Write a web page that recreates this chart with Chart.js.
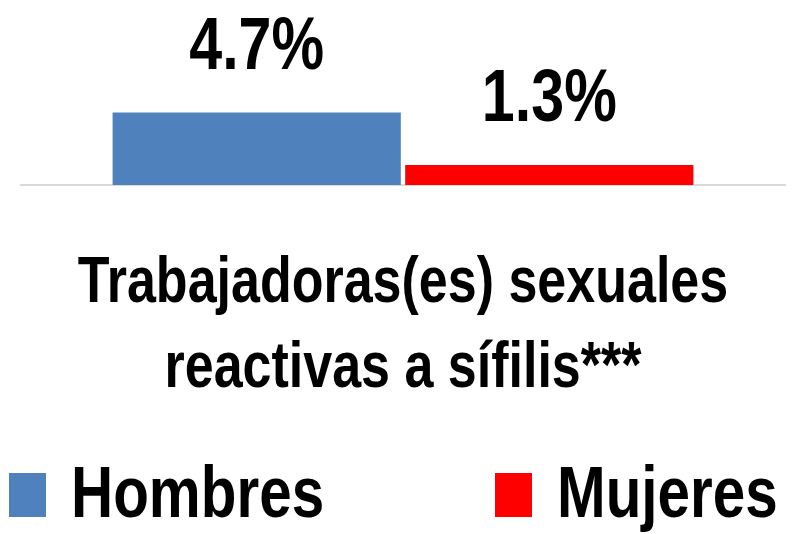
<!DOCTYPE html>
<html>
<head>
<meta charset="utf-8">
<script src="https://cdn.jsdelivr.net/npm/chart.js@4"></script>
<style>
  html, body { margin: 0; padding: 0; background: #fff; }
  #wrap { width: 798px; height: 534px; }
</style>
</head>
<body>
<div id="wrap"><canvas id="chart" width="798" height="534"></canvas></div>
<script>
// --- データ ---
const categories  = [['Trabajadoras(es) sexuales', 'reactivas a sífilis***']];
const seriesNames = ['Hombres', 'Mujeres'];
const hombres     = [4.7];
const mujeres     = [1.3];
const seriesColors = ['#4F81BD', '#FF0000'];

// 横方向に縮めた太字テキスト（Calibri Bold 風）
const FONT = '"Liberation Sans", Arial, sans-serif';
const SQUEEZE = 0.8;

function squeezedText(ctx, text, x, y, size, align) {
    ctx.save();
    ctx.translate(x, y);
    ctx.scale(SQUEEZE, 1);
    ctx.font = `bold ${size}px ${FONT}`;
    ctx.fillStyle = '#000';
    ctx.textAlign = align;
    ctx.textBaseline = 'alphabetic';
    ctx.fillText(text, 0, 0);
    ctx.restore();
}

// --- 値ラベル・カテゴリ名・凡例 ---
const textPlugin = {
    id: 'squeezedLabels',
    afterDraw(chart) {
        const ctx = chart.ctx;
        const area = chart.chartArea;

        // バー上の値
        chart.data.datasets.forEach((ds, i) => {
            chart.getDatasetMeta(i).data.forEach((bar, j) => {
                squeezedText(ctx, ds.data[j].toFixed(1) + '%', bar.x, bar.y - 44, 74, 'center');
            });
        });

        // カテゴリ名（2行）
        const xScale = chart.scales.x;
        chart.data.labels.forEach((lines, j) => {
            const cx = xScale.getPixelForTick(j);
            lines.forEach((line, k) => {
                squeezedText(ctx, line, cx, area.bottom + 117 + k * 85, 65, 'center');
            });
        });

        // 凡例
        const legendX = [9, 495];
        const baseline = 517;
        chart.data.datasets.forEach((ds, i) => {
            const x = legendX[i];
            ctx.fillStyle = ds.backgroundColor;
            ctx.fillRect(x, baseline - 44, 37, 44);
            squeezedText(ctx, ds.label, x + 62, baseline, 73, 'left');
        });
    }
};

new Chart(document.getElementById('chart'), {
    type: 'bar',
    data: {
        labels: categories,
        datasets: [
            { label: seriesNames[0], data: hombres, backgroundColor: seriesColors[0] },
            { label: seriesNames[1], data: mujeres, backgroundColor: seriesColors[1] }
        ]
    },
    options: {
        responsive: false,
        animation: false,
        layout: { padding: { left: 21, right: 13, top: 0, bottom: 349 } },
        datasets: { bar: { categoryPercentage: 0.766, barPercentage: 0.985 } },
        scales: {
            x: {
                grid: { display: false, drawTicks: false },
                border: { display: true, color: '#D9D9D9', width: 2 },
                ticks: { display: false }
            },
            y: { display: false, min: 0, max: 12 }
        },
        plugins: {
            legend: { display: false },
            tooltip: { enabled: false }
        }
    },
    plugins: [textPlugin]
});
</script>
</body>
</html>
